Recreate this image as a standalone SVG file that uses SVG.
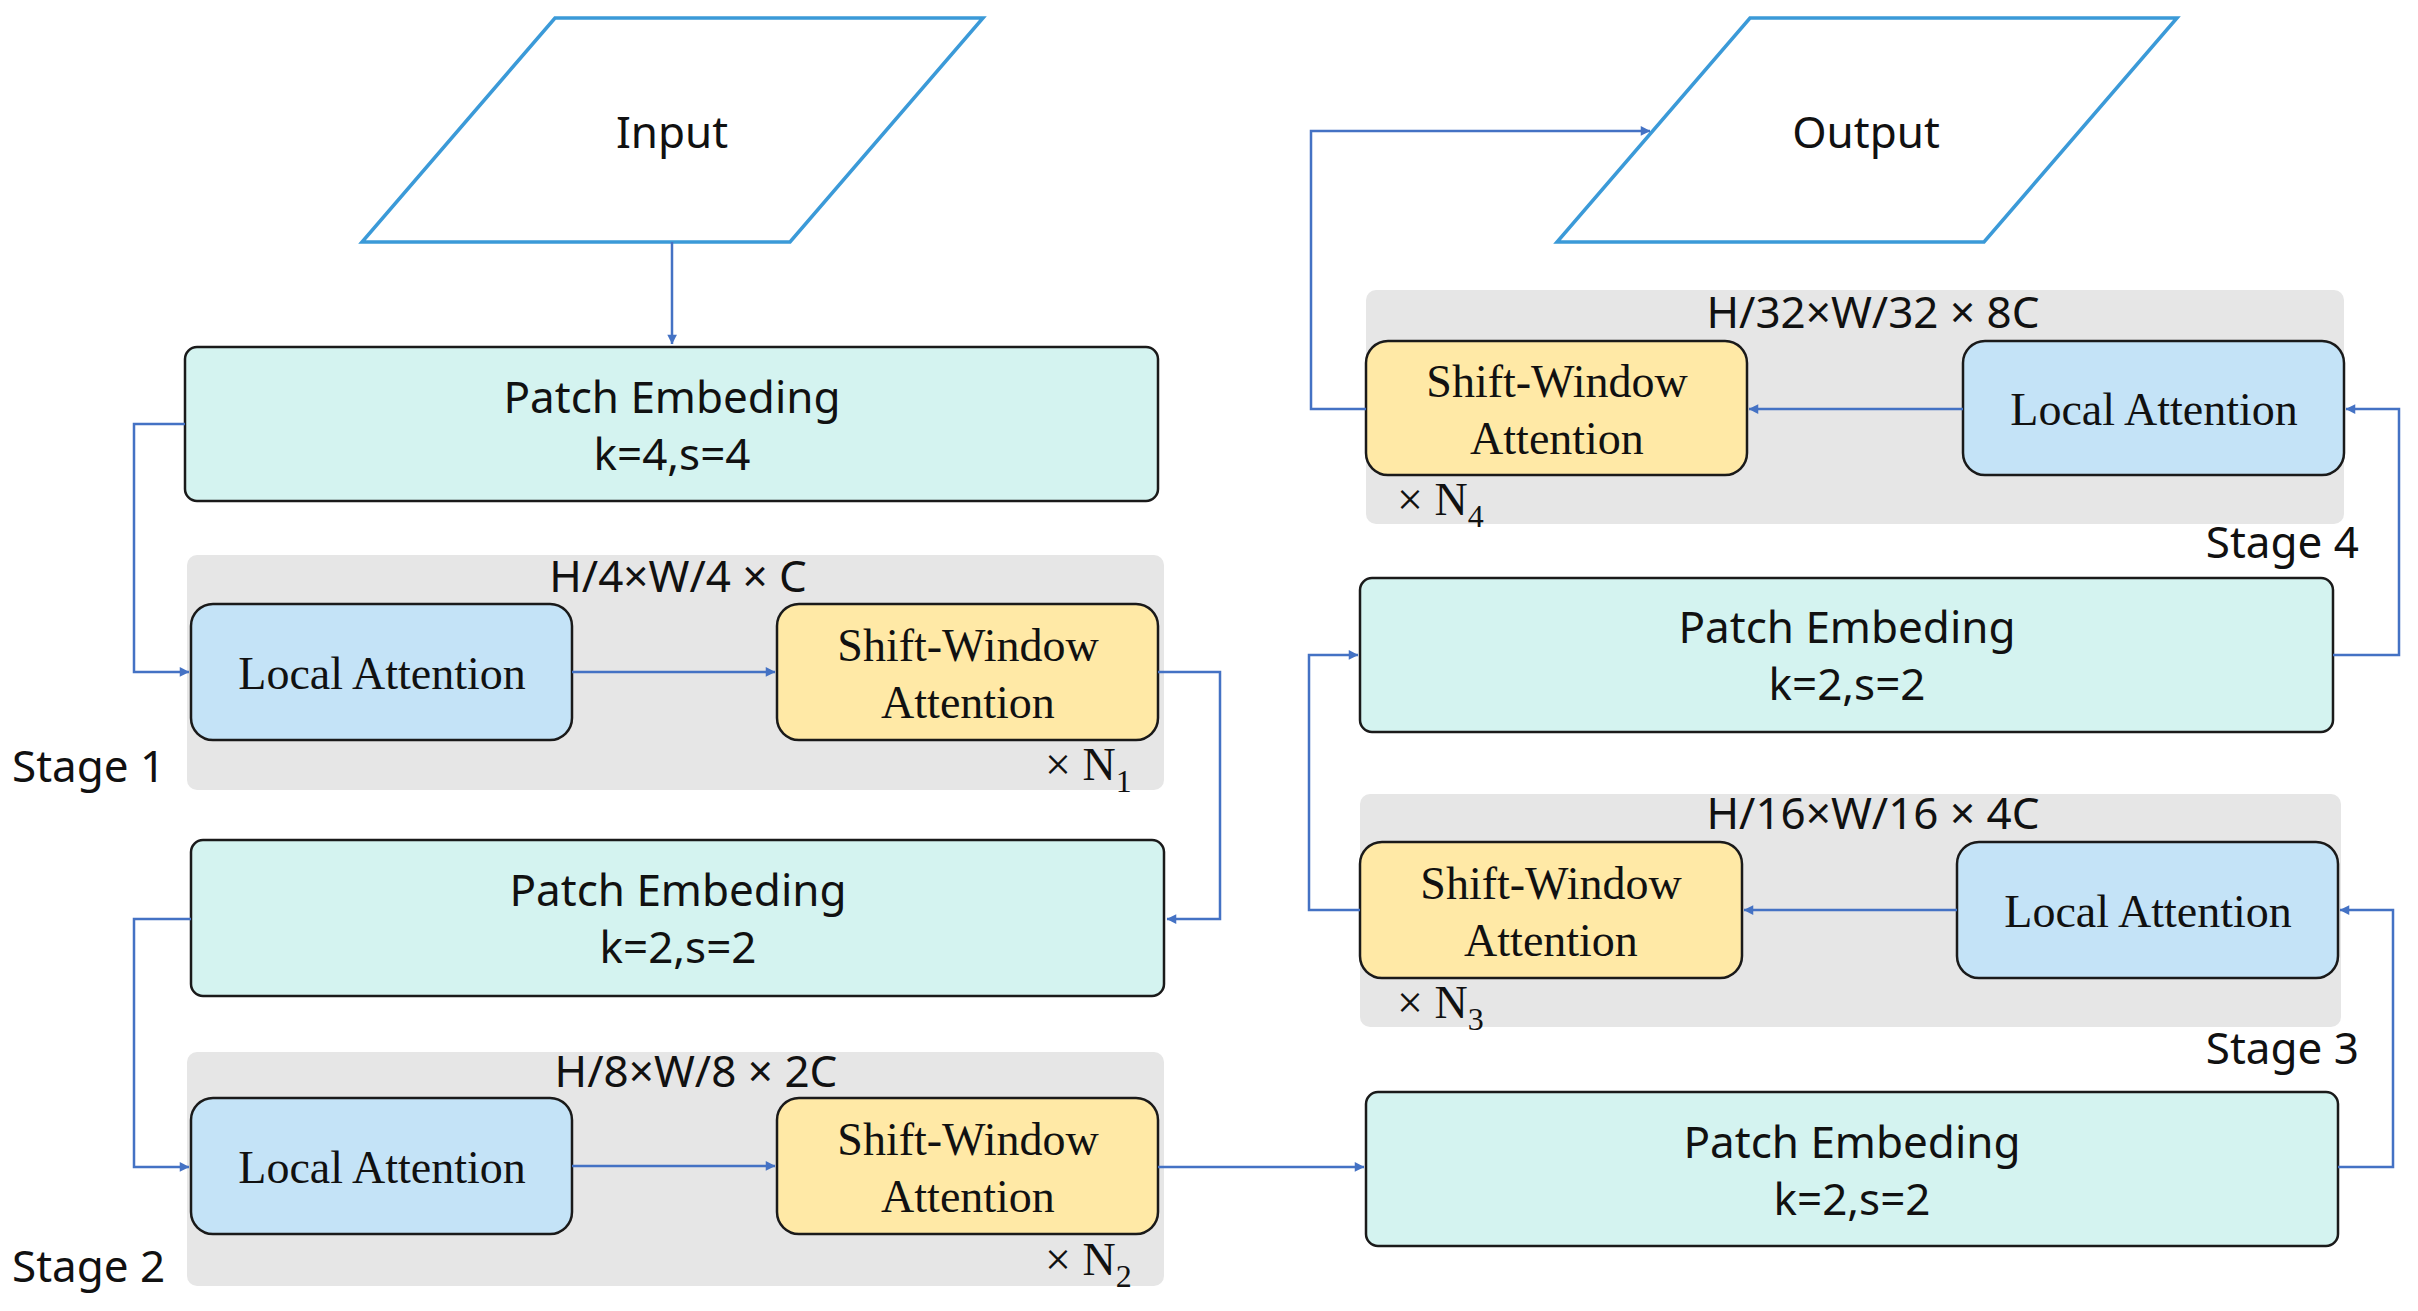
<svg xmlns="http://www.w3.org/2000/svg" width="2418" height="1311" viewBox="0 0 2418 1311">
<style>
.io{fill:#fff;stroke:#3b9ad8;stroke-width:3.5}
.pe{fill:#d4f3f0;stroke:#1a1a1a;stroke-width:2.5}
.la{fill:#c4e3f7;stroke:#1a1a1a;stroke-width:2.5}
.sw{fill:#ffe9a6;stroke:#1a1a1a;stroke-width:2.5}
.bg{fill:#e6e6e6}
.s{font-family:"Noto Sans","Open Sans",sans-serif;font-size:44px;fill:#111}
.r{font-family:"Liberation Serif","Times New Roman",serif;font-size:46px;fill:#111}
.c{fill:none;stroke:#4472c4;stroke-width:2.5;marker-end:url(#a)}
</style>
<defs><marker id="a" viewBox="0 0 10 10" refX="9" refY="5" markerWidth="6" markerHeight="6" orient="auto" markerUnits="userSpaceOnUse" style="overflow:visible"><path d="M0,0L10,5L0,10z" fill="#4472c4" transform="scale(1.6) translate(-4,-2)"/></marker></defs>
<rect class="bg" x="187" y="555" width="977" height="235" rx="10"/>
<rect class="bg" x="187" y="1052" width="977" height="234" rx="10"/>
<rect class="bg" x="1360" y="794" width="981" height="233" rx="10"/>
<rect class="bg" x="1366" y="290" width="978" height="234" rx="10"/>
<g id="input"><polygon class="io" points="555,18 983,18 790,242 362,242"/><text class="s" x="672" y="148" text-anchor="middle" font-size="40">Input</text></g>
<g id="output"><polygon class="io" points="1750,18 2177,18 1984,242 1557,242"/><text class="s" x="1866" y="148" text-anchor="middle" font-size="40">Output</text></g>
<g id="pe1"><rect class="pe" x="185" y="347" width="973" height="154" rx="12"/><text class="s" x="672" y="413" text-anchor="middle">Patch Embeding</text><text class="s" x="672" y="470" text-anchor="middle">k=4,s=4</text></g>
<g id="stage1"><text class="s" x="678" y="592" text-anchor="middle">H/4×W/4 × C</text><text class="s" x="12" y="782">Stage 1</text><text class="r" x="1045" y="780">× N<tspan font-size="32" dy="12">1</tspan></text></g>
<g id="la1"><rect class="la" x="191" y="604" width="381" height="136" rx="22"/><text class="r" x="382" y="689" text-anchor="middle">Local Attention</text></g>
<g id="sw1"><rect class="sw" x="777" y="604" width="381" height="136" rx="22"/><text class="r" x="968" y="661" text-anchor="middle">Shift-Window</text><text class="r" x="968" y="718" text-anchor="middle">Attention</text></g>
<g id="pe2"><rect class="pe" x="191" y="840" width="973" height="156" rx="12"/><text class="s" x="678" y="906" text-anchor="middle">Patch Embeding</text><text class="s" x="678" y="963" text-anchor="middle">k=2,s=2</text></g>
<g id="stage2"><text class="s" x="696" y="1087" text-anchor="middle">H/8×W/8 × 2C</text><text class="s" x="12" y="1282">Stage 2</text><text class="r" x="1045" y="1275">× N<tspan font-size="32" dy="12">2</tspan></text></g>
<g id="la2"><rect class="la" x="191" y="1098" width="381" height="136" rx="22"/><text class="r" x="382" y="1183" text-anchor="middle">Local Attention</text></g>
<g id="sw2"><rect class="sw" x="777" y="1098" width="381" height="136" rx="22"/><text class="r" x="968" y="1155" text-anchor="middle">Shift-Window</text><text class="r" x="968" y="1212" text-anchor="middle">Attention</text></g>
<g id="pe3"><rect class="pe" x="1366" y="1092" width="972" height="154" rx="12"/><text class="s" x="1852" y="1158" text-anchor="middle">Patch Embeding</text><text class="s" x="1852" y="1215" text-anchor="middle">k=2,s=2</text></g>
<g id="stage3"><text class="s" x="1873" y="829" text-anchor="middle">H/16×W/16 × 4C</text><text class="s" x="2359" y="1064" text-anchor="end">Stage 3</text><text class="r" x="1397" y="1018">× N<tspan font-size="32" dy="12">3</tspan></text></g>
<g id="la3"><rect class="la" x="1957" y="842" width="381" height="136" rx="22"/><text class="r" x="2148" y="927" text-anchor="middle">Local Attention</text></g>
<g id="sw3"><rect class="sw" x="1360" y="842" width="382" height="136" rx="22"/><text class="r" x="1551" y="899" text-anchor="middle">Shift-Window</text><text class="r" x="1551" y="956" text-anchor="middle">Attention</text></g>
<g id="pe4"><rect class="pe" x="1360" y="578" width="973" height="154" rx="12"/><text class="s" x="1847" y="643" text-anchor="middle">Patch Embeding</text><text class="s" x="1847" y="700" text-anchor="middle">k=2,s=2</text></g>
<g id="stage4"><text class="s" x="1873" y="328" text-anchor="middle">H/32×W/32 × 8C</text><text class="s" x="2359" y="558" text-anchor="end">Stage 4</text><text class="r" x="1397" y="515">× N<tspan font-size="32" dy="12">4</tspan></text></g>
<g id="la4"><rect class="la" x="1963" y="341" width="381" height="134" rx="22"/><text class="r" x="2154" y="425" text-anchor="middle">Local Attention</text></g>
<g id="sw4"><rect class="sw" x="1366" y="341" width="381" height="134" rx="22"/><text class="r" x="1557" y="397" text-anchor="middle">Shift-Window</text><text class="r" x="1557" y="454" text-anchor="middle">Attention</text></g>
<g id="connectors">
<path class="c" d="M672,242V344"/>
<path class="c" d="M185,424H134V672H189"/>
<path class="c" d="M572,672H775"/>
<path class="c" d="M1158,672H1220V919H1167"/>
<path class="c" d="M191,919H134V1167H189"/>
<path class="c" d="M572,1166H775"/>
<path class="c" d="M1158,1167H1364"/>
<path class="c" d="M2338,1167H2393V910H2340"/>
<path class="c" d="M1957,910H1744"/>
<path class="c" d="M1360,910H1309V655H1358"/>
<path class="c" d="M2333,655H2399V409H2346"/>
<path class="c" d="M1963,409H1749"/>
<path class="c" d="M1366,409H1311V131H1650"/>
</g>
</svg>
